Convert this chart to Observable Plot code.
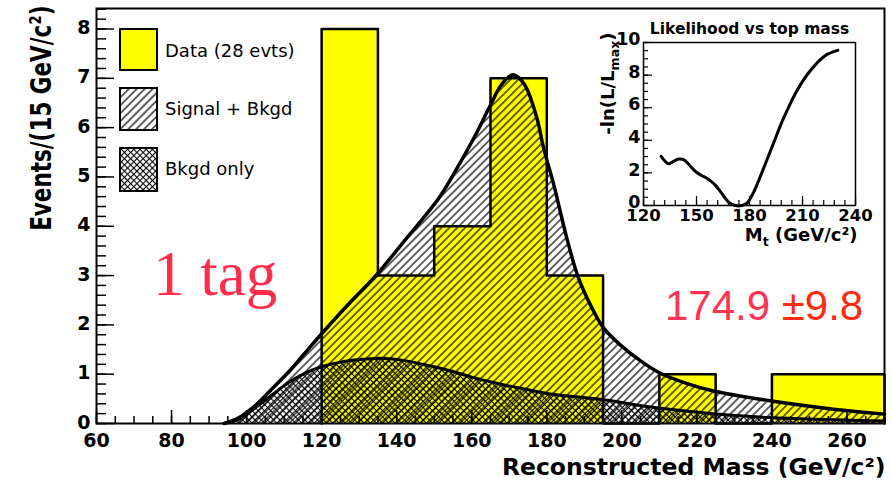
<!DOCTYPE html>
<html><head><meta charset="utf-8">
<script src="https://cdn.jsdelivr.net/npm/d3@7"></script>
<script src="https://cdn.jsdelivr.net/npm/@observablehq/plot@0.6"></script>
<style>
html,body{margin:0;padding:0;background:#fff;}
#wrap{position:relative;width:892px;height:481px;overflow:hidden;background:#fff;}
#wrap > svg{position:absolute;left:0;top:0;}
</style></head>
<body>
<div id="wrap">
<svg id="defs" width="0" height="0">
<defs>
<pattern id="hatchSB" patternUnits="userSpaceOnUse" width="5.6" height="12" patternTransform="rotate(45)">
<line x1="2.8" y1="-1" x2="2.8" y2="13" stroke="#000" stroke-width="1.2"/>
</pattern>
<pattern id="hatchBG" patternUnits="userSpaceOnUse" width="4.4" height="4.4" patternTransform="rotate(45)">
<line x1="2.2" y1="-1" x2="2.2" y2="5.4" stroke="#000" stroke-width="1.1"/>
<line x1="-1" y1="2.2" x2="5.4" y2="2.2" stroke="#000" stroke-width="1.1"/>
</pattern>
</defs>
</svg>
</div>
<script>
// ---- Data ----
const binStarts = [120, 135, 150, 165, 180, 195, 210, 225, 240, 255];
const binWidth = 15;
const dataCounts = [8, 3, 4, 7, 3, 0, 1, 0, 1, 1];

const sbMass  = [94, 98, 102.7, 107, 111.5, 115, 120, 127.5, 134, 142, 151.5, 157, 161, 165, 168, 171, 174, 177.3, 179.1, 181.8, 185.3, 188.4, 192.4, 195, 199.5, 205, 210, 217, 224.4, 239.5, 256.4, 270];
const sbValue = [0, 0.12, 0.39, 0.72, 1.07, 1.38, 1.82, 2.45, 2.96, 3.7, 4.6, 5.3, 5.85, 6.46, 6.88, 7.07, 6.88, 6.21, 5.6, 4.86, 3.77, 2.96, 2.29, 1.95, 1.6, 1.27, 1.03, 0.82, 0.66, 0.46, 0.29, 0.19];

const bgMass  = [94, 98, 102, 107.1, 111, 115.1, 119.5, 126, 132, 137, 141, 147, 154.2, 160, 167.5, 174, 180.9, 194.2, 209.3, 224.4, 239.5, 255, 270];
const bgValue = [0, 0.09, 0.3, 0.6, 0.82, 1.0, 1.14, 1.26, 1.31, 1.32, 1.29, 1.2, 1.07, 0.94, 0.8, 0.7, 0.6, 0.49, 0.32, 0.2, 0.12, 0.08, 0.05];

const likeMass  = [130, 132.3, 134.2, 137, 139.8, 142.7, 145, 148.4, 152.1, 155.9, 160.6, 164.4, 168.2, 172, 175.7, 178.6, 182.4, 186.1, 189.9, 193.7, 197.5, 201.3, 205, 208.8, 212.6, 218.3, 223.9, 230];
const likeValue = [3.02, 2.71, 2.56, 2.71, 2.85, 2.81, 2.6, 2.19, 1.88, 1.67, 1.25, 0.73, 0.21, 0.0, 0.0, 0.15, 0.83, 1.77, 2.81, 3.85, 4.9, 5.83, 6.67, 7.4, 8.02, 8.75, 9.27, 9.52];

const xTickLabels = [60, 80, 100, 120, 140, 160, 180, 200, 220, 240, 260];
const yTickLabels = [0, 1, 2, 3, 4, 5, 6, 7, 8];
const insetXTickLabels = [120, 150, 180, 210, 240];
const insetYTickLabels = [0, 2, 4, 6, 8, 10];

const xMinor = d3.range(60, 271, 5);
const yMinor = d3.range(0, 8.41, 0.2);
const insetXMinor = d3.range(120, 241, 6);
const insetYMinor = d3.range(0, 10.01, 0.5);

const xTitle = "Reconstructed Mass (GeV/c²)";
const yTitle = "Events/(15 GeV/c²)";
const insetTitle = "Likelihood vs top mass";
const insetXTitle = "Mt (GeV/c²)";
const insetYTitle = "-ln(L/Lmax)";
const legendLabels = ["Data (28 evts)", "Signal + Bkgd", "Bkgd only"];

// ---- derived tables ----
const outline = [{x: binStarts[0], y: 0}]
  .concat(binStarts.map((s, i) => ({x: s, y: dataCounts[i]})))
  .concat([{x: binStarts[binStarts.length - 1] + binWidth, y: dataCounts[dataCounts.length - 1]},
           {x: binStarts[binStarts.length - 1] + binWidth, y: 0}]);
const sb = sbMass.map((m, i) => ({m, v: sbValue[i]}));
const bg = bgMass.map((m, i) => ({m, v: bgValue[i]}));
const lk = likeMass.map((m, i) => ({m, v: likeValue[i]}));

const font = "'DejaVu Sans', 'Liberation Sans', sans-serif";

const main = Plot.plot({
  width: 892, height: 481,
  marginLeft: 96, marginRight: 8, marginTop: 8, marginBottom: 58,
  x: {domain: [60, 270], axis: null},
  y: {domain: [0, 8.416], axis: null},
  style: {background: "transparent", fontFamily: font, overflow: "visible"},
  marks: [
    Plot.rectY(binStarts, {x1: d => d, x2: d => d + binWidth, y1: () => 0, y2: (d, i) => dataCounts[i], fill: "#ffff00"}),
    Plot.areaY(sb, {x: "m", y1: () => 0, y2: "v", curve: "catmull-rom", fill: "url(#hatchSB)"}),
    Plot.areaY(bg, {x: "m", y1: () => 0, y2: "v", curve: "catmull-rom", fill: "url(#hatchBG)"}),
    Plot.line(outline, {x: "x", y: "y", curve: "step-after", stroke: "#000", strokeWidth: 2.5}),
    Plot.line(sb, {x: "m", y: "v", curve: "catmull-rom", stroke: "#000", strokeWidth: 3.5}),
    Plot.line(bg, {x: "m", y: "v", curve: "catmull-rom", stroke: "#000", strokeWidth: 3}),
    Plot.frame({stroke: "#000", strokeWidth: 2}),
    Plot.ruleX(xTickLabels, {x: d => d, y1: () => 0, y2: () => 0, insetTop: -13, stroke: "#000", strokeWidth: 1.5}),
    Plot.ruleX(xMinor, {x: d => d, y1: () => 0, y2: () => 0, insetTop: -7, stroke: "#000", strokeWidth: 1.5}),
    Plot.ruleY(yTickLabels, {y: d => d, x1: () => 60, x2: () => 60, insetRight: -18, stroke: "#000", strokeWidth: 1.5}),
    Plot.ruleY(yMinor, {y: d => d, x1: () => 60, x2: () => 60, insetRight: -10, stroke: "#000", strokeWidth: 1.5}),
    Plot.text(xTickLabels, {x: d => d, frameAnchor: "bottom", lineAnchor: "top", dy: 10, text: d => String(d), fontWeight: "bold", fontSize: 19}),
    Plot.text(yTickLabels, {y: d => d, frameAnchor: "left", textAnchor: "end", dx: -6, dy: -1, text: d => String(d), fontWeight: "bold", fontSize: 19}),
    Plot.text([xTitle], {frameAnchor: "bottom-right", textAnchor: "end", lineAnchor: "bottom", dx: 1, dy: 51, text: d => d, fontWeight: "bold", fontSize: 23.5}),
    Plot.text([yTitle], {frameAnchor: "top-left", rotate: -90, textAnchor: "end", lineAnchor: "bottom", dx: -46, dy: -3, text: d => d, fontWeight: "bold", fontSize: 21.5})
  ]
});

const inset = Plot.plot({
  width: 330, height: 260,
  marginLeft: 83, marginRight: 35, marginTop: 42, marginBottom: 55,
  x: {domain: [120, 240], axis: null},
  y: {domain: [0, 10], axis: null},
  style: {background: "transparent", fontFamily: font, overflow: "visible"},
  marks: [
    Plot.frame({stroke: "#000", strokeWidth: 1.5}),
    Plot.ruleX(insetXTickLabels, {x: d => d, y1: () => 0, y2: () => 0, insetTop: -9, stroke: "#000", strokeWidth: 1.2}),
    Plot.ruleX(insetXMinor, {x: d => d, y1: () => 0, y2: () => 0, insetTop: -5, stroke: "#000", strokeWidth: 1.2}),
    Plot.ruleY(insetYTickLabels, {y: d => d, x1: () => 120, x2: () => 120, insetRight: -9, stroke: "#000", strokeWidth: 1.2}),
    Plot.ruleY(insetYMinor, {y: d => d, x1: () => 120, x2: () => 120, insetRight: -5, stroke: "#000", strokeWidth: 1.2}),
    Plot.line(lk, {x: "m", y: "v", curve: "catmull-rom", stroke: "#000", strokeWidth: 3}),
    Plot.text(insetXTickLabels, {x: d => d, frameAnchor: "bottom", lineAnchor: "top", dy: 4, text: d => String(d), fontWeight: "bold", fontSize: 16.5}),
    Plot.text(insetYTickLabels, {y: d => d, frameAnchor: "left", textAnchor: "end", dx: -3, dy: -3, text: d => String(d), fontWeight: "bold", fontSize: 17.5}),
    Plot.text([insetTitle], {frameAnchor: "top", lineAnchor: "bottom", dy: -9, text: d => d, fontWeight: "bold", fontSize: 15.5}),
    Plot.text([insetXTitle], {frameAnchor: "bottom-right", textAnchor: "end", lineAnchor: "bottom", dx: 2, dy: 35, text: d => d, fontWeight: "bold", fontSize: 18}),
    Plot.text([insetYTitle], {frameAnchor: "top-left", rotate: -90, textAnchor: "end", lineAnchor: "bottom", dx: -30, dy: -10, text: d => d, fontWeight: "bold", fontSize: 18})
  ]
});

const wrap = document.getElementById("wrap");
wrap.appendChild(main);
inset.style.left = "560px";
inset.style.top = "0px";
wrap.appendChild(inset);

// sub-scripts and stretched rotated title
const NS = "http://www.w3.org/2000/svg";
function subscript(svg, full, before, sub, after, shift) {
  for (const t of svg.querySelectorAll("text")) {
    if (t.textContent === full) {
      t.textContent = "";
      const a = document.createElementNS(NS, "tspan"); a.textContent = before; t.appendChild(a);
      const b = document.createElementNS(NS, "tspan"); b.textContent = sub; b.setAttribute("font-size", "70%"); b.setAttribute("dy", shift); t.appendChild(b);
      const c = document.createElementNS(NS, "tspan"); c.textContent = after; c.setAttribute("dy", -shift); t.appendChild(c);
    }
  }
}
subscript(inset, insetXTitle, "M", "t", " (GeV/c²)", 5);
subscript(inset, insetYTitle, "-ln(L/L", "max", ")", 5);
for (const t of main.querySelectorAll("text")) {
  if (t.textContent === yTitle && t.getAttribute("transform")) {
    t.setAttribute("transform", t.getAttribute("transform") + " scale(1,1.35)");
  }
}

// legend and annotations
const ov = document.createElementNS(NS, "svg");
ov.setAttribute("width", 892); ov.setAttribute("height", 481);
ov.innerHTML = `
<rect x="120" y="29" width="37" height="41" fill="#ffff00" stroke="#000" stroke-width="2"/>
<rect x="120" y="88" width="37" height="42" fill="url(#hatchSB)" stroke="#000" stroke-width="2"/>
<rect x="120" y="148" width="37" height="43" fill="url(#hatchBG)" stroke="#000" stroke-width="2"/>
<g font-family="DejaVu Sans, sans-serif" font-size="18" fill="#000">
<text x="165" y="56.5">${legendLabels[0]}</text>
<text x="165" y="115">${legendLabels[1]}</text>
<text x="165" y="175">${legendLabels[2]}</text>
</g>
<text x="153" y="295" font-family="Liberation Serif, Times New Roman, serif" font-size="63" fill="#ff2d4b">1 tag</text>
<text x="665" y="320" font-family="Liberation Sans, Arial, sans-serif" font-size="42"><tspan fill="#ff3355">174.9 </tspan><tspan fill="#ff2a12">±9.8</tspan></text>`;
wrap.appendChild(ov);
</script>
</body></html>
